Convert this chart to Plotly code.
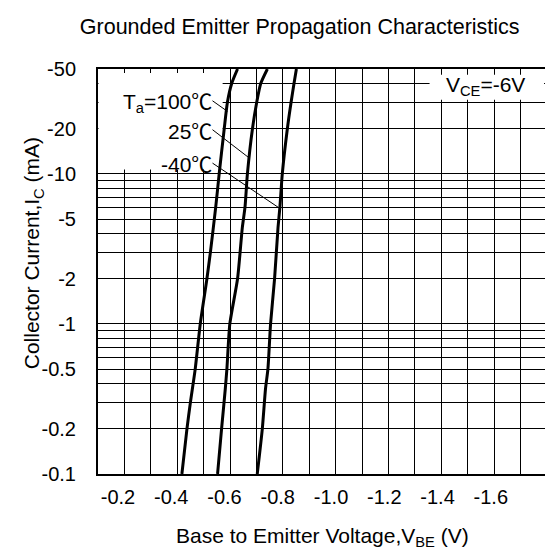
import numpy as np
import plotly.graph_objects as go

# ---- data (Vbe in V, |Ic| in mA) ----
I_100 = [0.1, 0.2, 0.3, 0.5, 1, 2, 3, 6, 10, 20, 30, 40, 50]
V_100 = [-0.440, -0.459, -0.472, -0.490, -0.509, -0.534, -0.547, -0.567, -0.580, -0.599, -0.611, -0.627, -0.649]

I_25 = [0.1, 0.2, 0.37, 0.5, 1, 2, 4.4, 6, 10, 20, 30, 40, 50]
V_25 = [-0.574, -0.589, -0.603, -0.609, -0.620, -0.649, -0.667, -0.677, -0.686, -0.705, -0.721, -0.736, -0.761]

I_m40 = [0.1, 0.2, 0.37, 0.5, 1, 2, 4.4, 6, 10, 20, 30, 40, 50]
V_m40 = [-0.723, -0.742, -0.754, -0.763, -0.773, -0.788, -0.801, -0.808, -0.817, -0.836, -0.850, -0.861, -0.870]

x_tickvals = [-0.2, -0.4, -0.6, -0.8, -1.0, -1.2, -1.4, -1.6]
x_ticktext = ["-0.2", "-0.4", "-0.6", "-0.8", "-1.0", "-1.2", "-1.4", "-1.6"]
y_tickvals = [0.1, 0.2, 0.5, 1, 2, 5, 10, 20, 50]
y_ticktext = ["-0.1", "-0.2", "-0.5", "-1", "-2", "-5", "-10", "-20", "-50"]
y_gridvals = [0.1, 0.2, 0.3, 0.4, 0.5, 0.6, 0.7, 0.8, 0.9,
              1, 2, 3, 4, 5, 6, 7, 8, 9, 10, 20, 30, 40, 50]

X_RANGE = [-0.125, -1.811]
FONT = "Liberation Sans, Arial, sans-serif"
FS_TICK = 20
FS_LAB = 21
FS_TITLE = 21.5

# plot area in pixels (for placing axis titles)
L, R, T, B = 90, 12, 61, 84
W, H = 553, 550
PW, PH = W - L - R, H - T - B

fig = go.Figure()
for V, I in [(V_100, I_100), (V_25, I_25), (V_m40, I_m40)]:
    fig.add_trace(go.Scatter(x=V, y=I, mode="lines",
                             line=dict(color="black", width=3, shape="spline", smoothing=0.6),
                             showlegend=False, hoverinfo="skip"))

# white boxes behind labels (hide grid)
fig.add_shape(type="rect", xref="x", yref="y", x0=-0.127, x1=-0.593, y0=10.7, y1=47,
              fillcolor="white", line=dict(width=0), layer="between")
fig.add_shape(type="rect", xref="x", yref="y", x0=-1.370, x1=-1.800, y0=31.2, y1=45.8,
              fillcolor="white", line=dict(width=0), layer="between")

C = "<span style='font-family:Noto Sans CJK SC'>℃</span>"
labels = [("T<sub>a</sub>=100" + C, -0.611, 26.1, -0.555, 30.7),
          ("25" + C, -0.692, 12.8, -0.555, 19.7),
          ("-40" + C, -0.801, 6.0, -0.555, 11.8)]
for txt, xh, yh, xt, yt in labels:
    fig.add_annotation(x=xh, y=np.log10(yh), ax=xt, ay=np.log10(yt), axref="x", ayref="y",
                       text=txt, showarrow=True, arrowhead=0, arrowwidth=1, arrowcolor="black",
                       xanchor="right", yanchor="middle", font=dict(size=FS_LAB, color="black", family=FONT),
                       standoff=0, startstandoff=0, borderpad=0)

fig.add_annotation(x=-1.58, y=np.log10(38.5), xref="x", yref="y", text="V<sub>CE</sub>=-6V",
                   showarrow=False, font=dict(size=FS_LAB, color="black", family=FONT))

# axis titles
fig.add_annotation(x=0.5, y=(H - B - 529) / PH, xref="paper", yref="paper",
                   text="Base to Emitter Voltage,V<sub>BE</sub> (V)", showarrow=False,
                   xanchor="center", yanchor="middle", font=dict(size=FS_LAB, color="black", family=FONT))
fig.add_annotation(x=(25 - L) / PW, y=(H - B - 245) / PH, xref="paper", yref="paper",
                   text="Collector Current,I<sub>C</sub> (mA)", showarrow=False, textangle=-90,
                   xanchor="center", yanchor="middle", font=dict(size=FS_LAB, color="black", family=FONT))

fig.update_layout(
    width=W, height=H,
    margin=dict(l=L, r=R, t=T, b=B),
    paper_bgcolor="white", plot_bgcolor="white",
    font=dict(family=FONT, size=FS_TICK, color="black"),
    title=dict(text="Grounded Emitter Propagation Characteristics", x=291.7 / W, xref="container",
               xanchor="center", y=1 - 18 / H, yanchor="middle",
               font=dict(size=FS_TITLE, family=FONT, color="black")),
)

fig.update_xaxes(range=X_RANGE, tickmode="array", tickvals=x_tickvals, ticktext=x_ticktext,
                 showgrid=False, zeroline=False, ticks="", ticklabelstandoff=4,
                 tickfont=dict(size=FS_TICK),
                 showline=True, mirror=True, linecolor="black", linewidth=2,
                 minor=dict(tickmode="array", tickvals=list(np.linspace(X_RANGE[0], X_RANGE[1], 18)),
                            showgrid=True, gridcolor="black", gridwidth=1, ticks=""))
fig.update_yaxes(type="log", range=[-1, np.log10(50)], tickmode="array", tickvals=y_tickvals,
                 ticktext=y_ticktext, tickfont=dict(size=FS_TICK),
                 showgrid=False, zeroline=False, ticks="", ticklabelstandoff=16,
                 showline=True, mirror=True, linecolor="black", linewidth=2,
                 minor=dict(tickmode="array", tickvals=y_gridvals, showgrid=True, gridcolor="black",
                            gridwidth=1, ticks=""))

fig.write_html("out.html")
